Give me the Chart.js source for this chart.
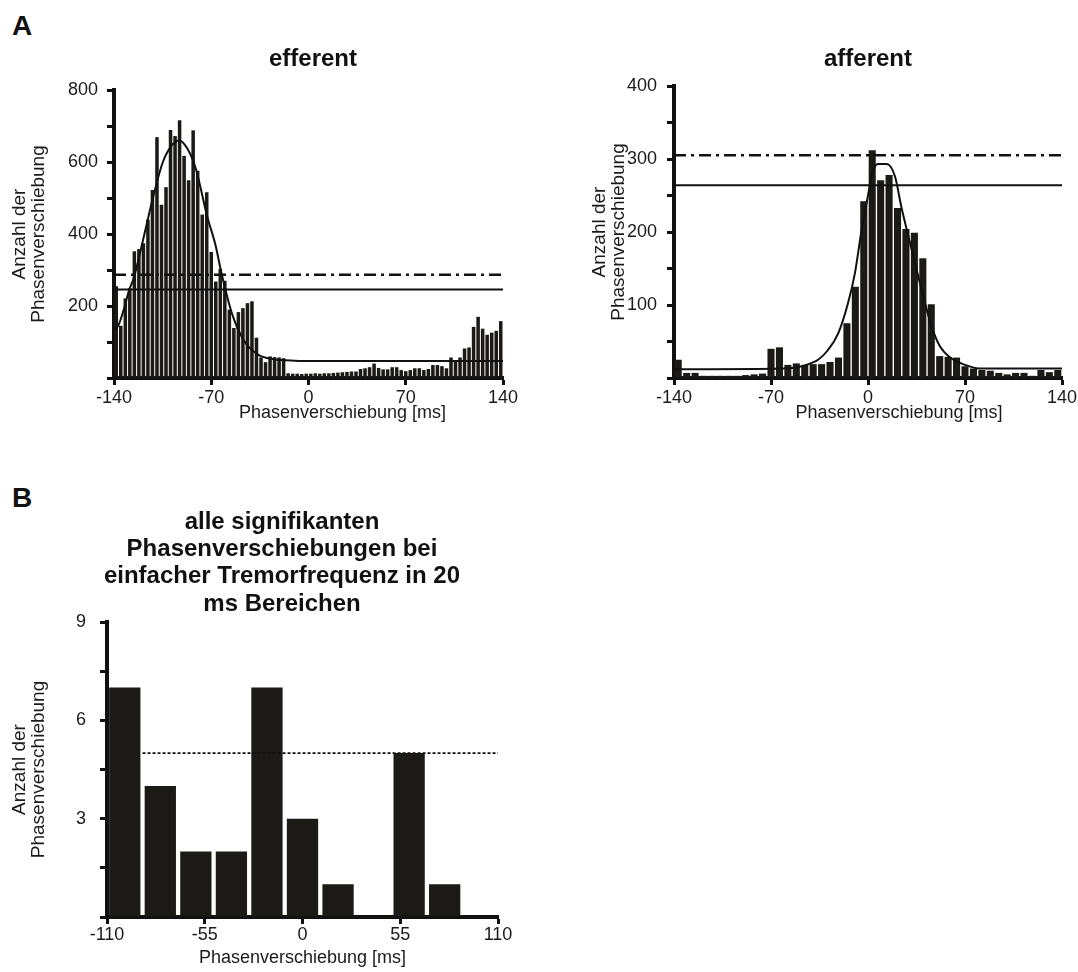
<!DOCTYPE html>
<html>
<head>
<meta charset="utf-8">
<title>Phasenverschiebung</title>
<script src="https://cdn.jsdelivr.net/npm/chart.js@4.4.1/dist/chart.umd.min.js"></script>
<style>
    body { margin: 0; background: #fff; overflow: hidden; width: 1078px; height: 972px; position: relative; font-family: 'Liberation Sans', Arial, sans-serif; }
    canvas { position: absolute; }
    .panel { position: absolute; font-weight: bold; font-size: 28px; line-height: 1; color: #111; }
</style>
</head>
<body>
<div class="panel" style="left:12px;top:12px">A</div>
<div class="panel" style="left:12px;top:484px">B</div>
<canvas id="effChart" width="626" height="440" style="left:0;top:0"></canvas>
<canvas id="affChart" width="502" height="440" style="left:576px;top:0"></canvas>
<canvas id="sumChart" width="564" height="482" style="left:0;top:490px"></canvas>
<script>
const FONT = "'Liberation Sans', Arial, sans-serif"
const TEXT = '#1a1a1a'
const INK = '#111'
const BAR = '#1c1a17'

// efferent histogram, 86 bins from -140 to 140 ms
const effCounts = [
    255, 145, 221, 249, 352, 358, 374, 440, 522, 669,
    481, 530, 689, 672, 716, 617, 549, 688, 576, 454,
    516, 350, 268, 303, 270, 190, 139, 183, 194, 208,
    213, 112, 57, 44, 60, 58, 57, 55, 13, 12,
    12, 11, 12, 12, 13, 12, 13, 13, 14, 15,
    16, 17, 18, 18, 25, 27, 30, 40, 28, 24,
    24, 30, 30, 22, 19, 22, 27, 27, 22, 25,
    36, 36, 33, 27, 57, 49, 57, 82, 85, 142,
    170, 137, 120, 126, 131, 158
]
const effFitX = [-140, -137, -133, -129, -126, -119, -112, -105, -98, -93, -87, -81, -73, -67, -62.5, -55, -46.5, -36, -25, -10, 10, 140]
const effFitY = [135, 145, 190, 246, 275, 385, 500, 598, 648, 660, 636, 580, 450, 370, 289, 178, 104, 64, 52, 48, 47, 47]
const effMean = 246
const effLimit = 287

// afferent histogram, 46 bins from -140 to 140 ms
const affCounts = [
    25, 7, 7, 3, 3, 3, 3, 3, 4, 5,
    6, 40, 42, 18, 20, 18, 19, 19, 22, 28,
    75, 125, 242, 312, 271, 278, 233, 204, 199, 164,
    101, 30, 29, 28, 16, 13, 11, 10, 7, 5,
    7, 7, 3, 11, 8, 11
]
const affFitX = [-140, -60, -50, -43, -36, -29, -21.5, -14.5, -9.5, -5, 0, 3, 7, 13.5, 19.5, 24, 28, 34, 40, 46, 52, 60, 70, 80, 140]
const affFitY = [12, 13, 15, 19, 25, 38, 61, 102, 143, 198, 250, 280, 293, 293, 276, 235, 203, 157, 111, 70, 43, 27, 18, 13, 13]
const affMean = 264
const affLimit = 305

// B: significant shifts in 20 ms ranges
const sumCenters = [-100, -80, -60, -40, -20, 0, 20, 40, 60, 80, 100]
const sumCounts = [7, 4, 2, 2, 7, 3, 1, 0, 5, 1, 0]
const sumLimit = 5

const yTitle = ['Anzahl der', 'Phasenverschiebung']
const xTitle = 'Phasenverschiebung [ms]'

Chart.defaults.font.family = FONT
Chart.defaults.color = TEXT

function binPoints(counts, from, to) {
    var w = (to - from) / counts.length
    return counts.map(function (c, i) {
        return { x: from + (i + 0.5) * w, y: c }
    })
}

function pairs(xs, ys) {
    return xs.map(function (x, i) { return { x: x, y: ys[i] } })
}

function hline(y, from, to) {
    return [{ x: from, y: y }, { x: to, y: y }]
}

function tickGrid() {
    return { display: true, drawOnChartArea: false, drawTicks: true, tickLength: 7, tickWidth: 3, tickColor: INK, offset: false }
}

const axisBorder = { display: true, color: INK, width: 4 }

const captionPlugin = {
    id: 'caption',
    afterDraw(chart, args, opts) {
        if (!opts || !opts.text) return
        const area = chart.chartArea
        const ctx = chart.ctx
        ctx.save()
        ctx.font = '18px ' + FONT
        ctx.fillStyle = TEXT
        ctx.textAlign = 'center'
        ctx.textBaseline = 'middle'
        ctx.fillText(opts.text, (area.left + area.right) / 2 + opts.shift, area.bottom + opts.gap)
        ctx.restore()
    }
}

function lineSet(data, extra) {
    return Object.assign({
        type: 'line', data: data, borderColor: INK, borderWidth: 2, pointRadius: 0,
        fill: false, order: 1
    }, extra || {})
}

function histChart(id, o) {
    return new Chart(document.getElementById(id), {
        type: 'bar',
        data: {
            datasets: [
                lineSet(pairs(o.fitX, o.fitY), { cubicInterpolationMode: 'monotone' }),
                lineSet(hline(o.mean, -140, 140)),
                lineSet(hline(o.limit, -140, 140), { borderWidth: 2.5, borderDash: [12, 5, 3, 5] }),
                {
                    type: 'bar', data: binPoints(o.counts, -140, 140), backgroundColor: BAR,
                    borderWidth: 0, barPercentage: o.barPct, categoryPercentage: 1, order: 5
                }
            ]
        },
        options: {
            responsive: false,
            animation: false,
            devicePixelRatio: 1,
            events: [],
            layout: { padding: { left: o.padLeft, right: 0, top: 0, bottom: 12 } },
            plugins: {
                legend: { display: false },
                tooltip: { enabled: false },
                title: {
                    display: true, text: o.title, fullSize: o.fullSize, color: INK,
                    font: { size: 24, weight: 'bold', lineHeight: 1.2 },
                    padding: { top: 44.6, bottom: o.titleGap }
                },
                caption: { text: xTitle, shift: o.captionShift, gap: 35 }
            },
            scales: {
                x: {
                    type: 'linear', min: -140, max: 140, offset: false,
                    grid: tickGrid(), border: axisBorder,
                    ticks: {
                        stepSize: 70, autoSkip: false, maxRotation: 0, padding: 2,
                        font: { size: 18 }, color: TEXT,
                        callback: function (v) { return String(v) }
                    },
                    afterFit: function (s) { s.height = 50; s.paddingLeft = 0; s.paddingRight = o.gapRight }
                },
                y: {
                    min: 0, max: o.yMax,
                    grid: tickGrid(), border: axisBorder,
                    ticks: {
                        stepSize: o.yStep, autoSkip: false, padding: o.yPad,
                        font: { size: 18 }, color: TEXT,
                        callback: function (v) { return (v > 0 && v % o.yLabelEvery === 0) ? String(v) : '' }
                    },
                    title: {
                        display: true, text: yTitle, color: TEXT,
                        font: { size: 19, lineHeight: 1.0 }, padding: { top: 10.5, bottom: 0 }
                    },
                    afterFit: function (s) { s.width = o.yWidth; s.paddingTop = 0; s.paddingBottom = 0 }
                }
            }
        },
        plugins: [captionPlugin]
    })
}

histChart('effChart', {
    title: 'efferent', counts: effCounts, fitX: effFitX, fitY: effFitY, mean: effMean, limit: effLimit,
    barPct: 0.78, yMax: 800, yStep: 100, yLabelEvery: 200, yPad: 9, yWidth: 114, padLeft: 0,
    gapRight: 123, fullSize: true, titleGap: 16.6, captionShift: 34
})

histChart('affChart', {
    title: 'afferent', counts: affCounts, fitX: affFitX, fitY: affFitY, mean: affMean, limit: affLimit,
    barPct: 0.84, yMax: 400, yStep: 50, yLabelEvery: 100, yPad: 10, yWidth: 94, padLeft: 4,
    gapRight: 16, fullSize: false, titleGap: 12.6, captionShift: 31
})

new Chart(document.getElementById('sumChart'), {
    type: 'bar',
    data: {
        datasets: [
            lineSet(hline(sumLimit, -90, 110), { borderWidth: 1.8, borderDash: [3, 2] }),
            {
                type: 'bar', data: pairs(sumCenters, sumCounts), backgroundColor: BAR,
                borderWidth: 0, barPercentage: 0.88, categoryPercentage: 1, order: 5
            }
        ]
    },
    options: {
        responsive: false,
        animation: false,
        devicePixelRatio: 1,
        events: [],
        layout: { padding: 0 },
        plugins: {
            legend: { display: false },
            tooltip: { enabled: false },
            title: {
                display: true, color: INK,
                text: ['alle signifikanten', 'Phasenverschiebungen bei', 'einfacher Tremorfrequenz in 20', 'ms Bereichen'],
                font: { size: 24, weight: 'bold', lineHeight: 1.1375 },
                padding: { top: 18.35, bottom: 4.45 }
            }
        },
        scales: {
            x: {
                type: 'linear', min: -110, max: 110, offset: false,
                grid: tickGrid(), border: axisBorder,
                ticks: {
                    stepSize: 55, autoSkip: false, maxRotation: 0, padding: 0,
                    font: { size: 18 }, color: TEXT,
                    callback: function (v) { return String(v) }
                },
                title: {
                    display: true, text: xTitle, color: TEXT,
                    font: { size: 18, lineHeight: 1.2 }, padding: { top: 0, bottom: 3.2 }
                },
                afterFit: function (s) { s.height = 55; s.paddingLeft = 0; s.paddingRight = 66 }
            },
            y: {
                min: 0, max: 9,
                grid: tickGrid(), border: axisBorder,
                ticks: {
                    stepSize: 1.5, autoSkip: false, padding: 14,
                    font: { size: 18 }, color: TEXT,
                    callback: function (v) { return (v > 0 && Math.abs(v % 3) < 1e-6) ? String(v) : '' }
                },
                title: {
                    display: true, text: yTitle, color: TEXT,
                    font: { size: 19, lineHeight: 1.0 }, padding: { top: 10.5, bottom: 0 }
                },
                afterFit: function (s) { s.width = 107; s.paddingTop = 0; s.paddingBottom = 0 }
            }
        }
    }
})
</script>
</body>
</html>
